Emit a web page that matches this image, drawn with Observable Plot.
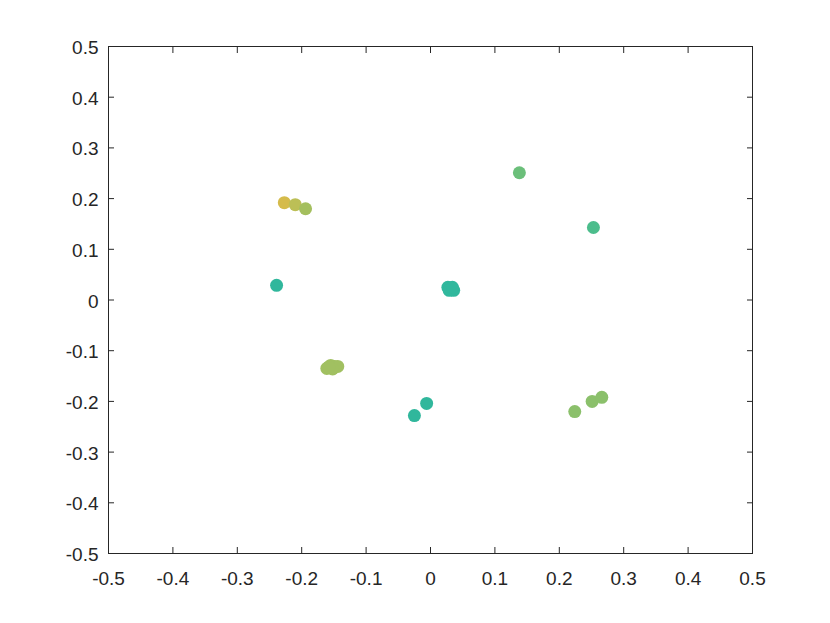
<!DOCTYPE html>
<html>
<head>
<meta charset="utf-8">
<script src="https://cdn.jsdelivr.net/npm/d3@7"></script>
<script src="https://cdn.jsdelivr.net/npm/@observablehq/plot@0.6"></script>
<style>
  html, body { margin: 0; padding: 0; background: #fff; }
</style>
</head>
<body>
<div id="chart"></div>
<script>
const xs = [-0.227, -0.210, -0.194, 0.138, 0.253, -0.239,
  0.027, 0.030, 0.033, 0.036, 0.029, 0.034,
  -0.161, -0.155, -0.149, -0.144, -0.152, -0.158,
  -0.025, -0.006, 0.224, 0.251, 0.266];
const ys = [0.192, 0.188, 0.180, 0.251, 0.143, 0.029,
  0.025, 0.022, 0.020, 0.019, 0.019, 0.025,
  -0.135, -0.129, -0.131, -0.131, -0.136, -0.132,
  -0.228, -0.204, -0.220, -0.200, -0.192];
const colors = ["#d5bb4b", "#bcbf56", "#a4bf5e", "#6bbf7a", "#4cbd8c", "#30b79c",
  "#31b89d", "#31b89d", "#31b89d", "#31b89d", "#31b89d", "#31b89d",
  "#a1c061", "#a1c061", "#a1c061", "#a1c061", "#a1c061", "#a1c061",
  "#30b79c", "#30b79c", "#8bc06b", "#8bc06b", "#8bc06b"];
const xTicks = [-0.5, -0.4, -0.3, -0.2, -0.1, 0, 0.1, 0.2, 0.3, 0.4, 0.5];
const yTicks = [-0.5, -0.4, -0.3, -0.2, -0.1, 0, 0.1, 0.2, 0.3, 0.4, 0.5];

const data = xs.map((x, i) => ({x, y: ys[i], c: colors[i]}));
const axisColor = "#262626";
const fmt = d => String(d);

const chart = Plot.plot({
  width: 830,
  height: 623,
  marginLeft: 108,
  marginRight: 78,
  marginTop: 46,
  marginBottom: 70,
  style: {fontFamily: "'Liberation Sans', Arial, sans-serif", fontSize: "19px", color: "#262626", background: "#fff"},
  x: {domain: [-0.5, 0.5]},
  y: {domain: [-0.5, 0.5]},
  marks: [
    Plot.dot(data, {x: "x", y: "y", r: 6.5, fill: "c", stroke: "none"}),
    Plot.frame({stroke: axisColor, strokeWidth: 1}),
    Plot.axisX(xTicks, {anchor: "bottom", tickSize: 0, tickPadding: 18, tickFormat: fmt, label: null, fill: "#262626", fontSize: 19}),
    Plot.axisY(yTicks, {anchor: "left", tickSize: 0, tickPadding: 10, dy: 1.5, tickFormat: fmt, label: null, fill: "#262626", fontSize: 19}),
    Plot.axisX(xTicks, {anchor: "bottom", tickSize: 6, dy: -6, text: null, stroke: axisColor, label: null}),
    Plot.axisX(xTicks, {anchor: "top", tickSize: 6, dy: 6, text: null, stroke: axisColor, label: null}),
    Plot.axisY(yTicks, {anchor: "left", tickSize: 6, dx: 6, text: null, stroke: axisColor, label: null}),
    Plot.axisY(yTicks, {anchor: "right", tickSize: 6, dx: -6, text: null, stroke: axisColor, label: null})
  ]
});
document.getElementById("chart").appendChild(chart);
</script>
</body>
</html>
